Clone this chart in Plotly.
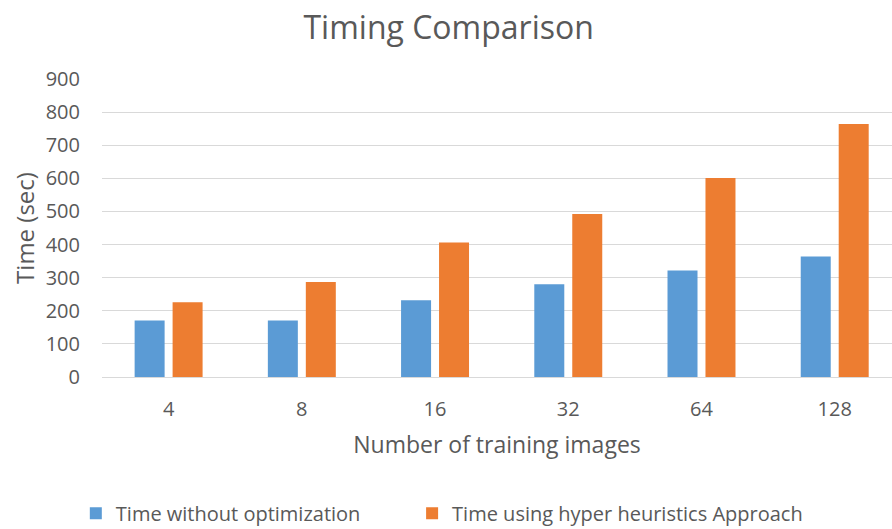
import plotly.graph_objects as go

categories = ["4", "8", "16", "32", "64", "128"]
time_without_opt = [171, 171, 232, 280, 322, 364]
time_hyper = [226, 287, 406, 492, 601, 764]
y_ticks = [0, 100, 200, 300, 400, 500, 600, 700, 800, 900]

FONT = "Open Sans, Segoe UI, sans-serif"
GRAY = "#595959"

fig = go.Figure()
fig.add_trace(go.Bar(x=categories, y=time_without_opt, name="Time without optimization",
                     marker_color="#5B9BD5", marker_line_width=0, legend="legend"))
fig.add_trace(go.Bar(x=categories, y=time_hyper, name="Time using hyper heuristics Approach",
                     marker_color="#ED7D31", marker_line_width=0, legend="legend2"))

legend_common = dict(orientation="h", xref="container", xanchor="left", y=0.03, yref="container",
                     yanchor="middle", font=dict(size=20, color=GRAY, family=FONT), itemwidth=30,
                     bgcolor="rgba(0,0,0,0)")

fig.update_layout(
    width=892, height=529,
    margin=dict(l=102, r=0, t=79, b=152),
    paper_bgcolor="white", plot_bgcolor="white",
    font=dict(family=FONT, color=GRAY, size=19),
    title=dict(text="Timing Comparison", x=0.503, xanchor="center", y=0.947, yanchor="middle",
               xref="container", font=dict(size=32, color=GRAY, family=FONT)),
    barmode="group", bargap=0.43, bargroupgap=0.21,
    showlegend=True,
    legend=dict(x=0.085, **legend_common),
    legend2=dict(x=0.462, **legend_common),
    xaxis=dict(type="category", range=[-0.5, 5.43], showgrid=False, showline=True,
               linecolor="#D9D9D9", linewidth=1, ticks="", tickfont=dict(size=20, color=GRAY),
               ticklabelstandoff=14,
               title=dict(text="Number of training images", font=dict(size=23, color=GRAY), standoff=15)),
    yaxis=dict(range=[0, 900], tickvals=y_ticks, showgrid=True, gridcolor="#D9D9D9", gridwidth=1,
               zeroline=False, ticks="", tickfont=dict(size=20, color=GRAY), ticklabelstandoff=21,
               title=dict(text="Time (sec)", font=dict(size=24, color=GRAY), standoff=4)),
)

fig.write_html("out.html")
